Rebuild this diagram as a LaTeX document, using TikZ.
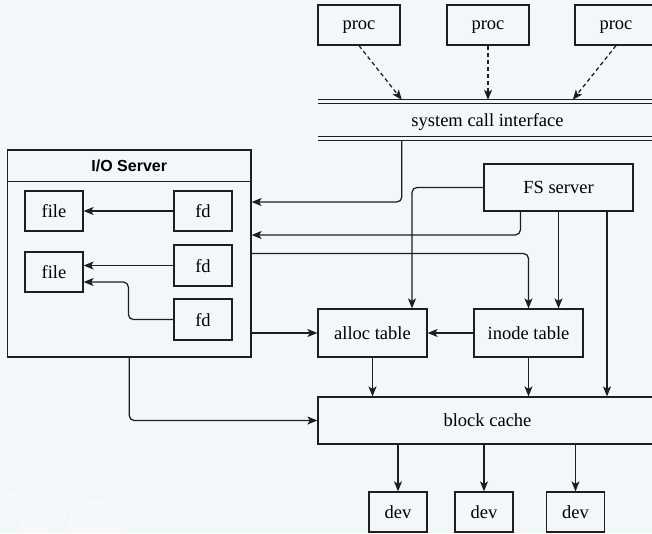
\documentclass[tikz,border=0pt]{standalone}
\usepackage{fontspec}
\setmainfont{Liberation Serif}
\setsansfont{Liberation Sans}
\usetikzlibrary{arrows.meta,calc}
\definecolor{bgc}{HTML}{F2F7F9}
\definecolor{ln}{HTML}{1E1E1E}
\begin{document}
\begin{tikzpicture}[x=1pt,y=-1pt,
  box/.style={draw=ln,line width=1.25pt,inner sep=0pt,text depth=0pt,font=\fontsize{18.5}{20}\selectfont},
  arr/.style={draw=ln,line width=1.25pt,-{Stealth[length=10pt,width=8pt,inset=2.5pt]}},
  dasharr/.style={arr,dash pattern=on 4pt off 3pt},
  dbl/.style={draw=ln,line width=1.3pt}]
\fill[bgc] (0,0) rectangle (652,533);
\useasboundingbox (0,0) rectangle (652,533);
% faint clouds
\begin{scope}
\clip (0,0) rectangle (652,533);
\fill[white,opacity=0.35] (0,430) circle (8) (12,505) circle (14) (35,520) circle (16) (55,515) circle (12)
  (95,525) circle (26) (-5,470) circle (14);
\end{scope}
% procs
\node[box,minimum width=82pt,minimum height=40pt] (proc1) at (359,25) {proc};
\node[box,minimum width=82pt,minimum height=40pt] (proc2) at (488,25) {proc};
\node[box,minimum width=82pt,minimum height=40pt] (proc3) at (616,25) {proc};
% system call interface
\node[inner sep=0pt,minimum width=339pt,minimum height=40pt,text depth=0pt,font=\fontsize{18.5}{20}\selectfont] (sys) at (487.5,120) {system call interface};
\draw[dbl] (sys.north west) -- (sys.north east);
\draw[dbl] ([yshift=-4pt]sys.north west) -- ([yshift=-4pt]sys.north east);
\draw[dbl] ([yshift=4pt]sys.south west) -- ([yshift=4pt]sys.south east);
\draw[dbl] (sys.south west) -- (sys.south east);
\draw[dasharr] (proc1.south) -- ([xshift=84pt]sys.north west);
\draw[dasharr] (proc2.south) -- (proc2.south |- sys.north);
\draw[dasharr] (proc3.south) -- ([xshift=255pt]sys.north west);
% I/O server
\node[draw=ln,line width=1.25pt,minimum width=243.5pt,minimum height=207pt,inner sep=0pt] (io) at (129.25,253.5) {};
\draw[draw=ln,line width=1.25pt] ([yshift=-32pt]io.north west) -- ([yshift=-32pt]io.north east);
\node[font=\sffamily\bfseries\fontsize{16}{18}\selectfont] (iotitle) at (129.25,166) {I/O Server};
\node[box,minimum width=58pt,minimum height=40pt] (file1) at (54,211) {file};
\node[box,minimum width=58pt,minimum height=40pt] (fd1) at (203,211) {fd};
\node[box,minimum width=58pt,minimum height=40pt] (file2) at (54,272) {file};
\node[box,minimum width=58pt,minimum height=41pt] (fd2) at (203,265.5) {fd};
\node[box,minimum width=58pt,minimum height=41pt] (fd3) at (203,319.5) {fd};
\draw[arr] (fd1.west) -- (file1.east);
\draw[arr] (fd2.west) -- (fd2.west -| file2.east);
\draw[arr,rounded corners=5pt] (fd3.west) -- ++(-45,0) |- ([yshift=-10pt]file2.east);
% FS server and tables
\node[box,minimum width=149pt,minimum height=47pt] (fs) at (558.5,187.5) {FS server};
\node[box,minimum width=109pt,minimum height=48pt] (alloc) at (372.5,333) {alloc table};
\node[box,minimum width=109pt,minimum height=48pt] (inode) at (528.5,333) {inode table};
\node[box,minimum width=339pt,minimum height=47pt] (cache) at (487.5,420.5) {block cache};
\node[box,minimum width=58pt,minimum height=40pt] (dev1) at (398,512) {dev};
\node[box,minimum width=58pt,minimum height=40pt] (dev2) at (484,512) {dev};
\node[box,minimum width=58pt,minimum height=40pt] (dev3) at (575.5,512) {dev};
% connectors
\draw[arr,rounded corners=5pt] ([xshift=84pt]sys.south west) |- ([yshift=51.5pt]io.east);
\draw[arr,rounded corners=5pt] ([xshift=37pt]fs.south west) |- ([yshift=18.5pt]io.east);
\draw[arr,rounded corners=5pt] (io.east) -| (inode.north);
\draw[arr,rounded corners=5pt] (fs.west) -| ([xshift=39.5pt]alloc.north);
\draw[arr] (fs.south) -- (fs.south |- inode.north);
\draw[arr] ([xshift=48.5pt]fs.south) -- ([xshift=48.5pt]fs.south |- cache.north);
\draw[arr] (inode.west) -- (alloc.east);
\draw[arr] (io.east |- alloc.west) -- (alloc.west);
\draw[arr] (alloc.south) -- (alloc.south |- cache.north);
\draw[arr] (inode.south) -- (inode.south |- cache.north);
\draw[arr,rounded corners=5pt] (io.south) |- (cache.west);
\draw[arr] (dev1.north |- cache.south) -- (dev1.north);
\draw[arr] (dev2.north |- cache.south) -- (dev2.north);
\draw[arr] (dev3.north |- cache.south) -- (dev3.north);
\end{tikzpicture}
\end{document}
